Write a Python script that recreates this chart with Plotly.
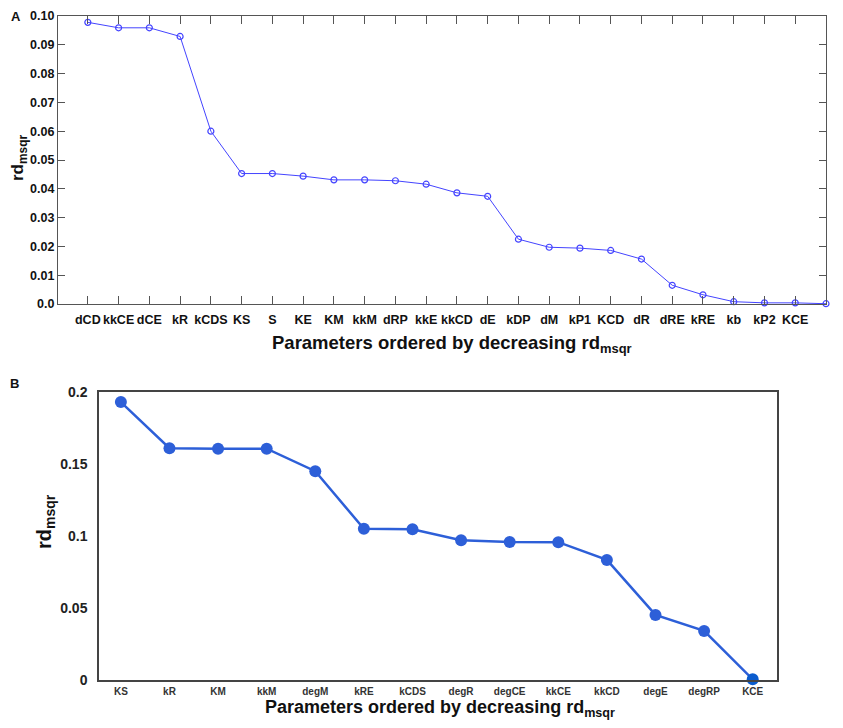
import plotly.graph_objects as go

# panel A: all parameters
params_a = ["dCD", "kkCE", "dCE", "kR", "kCDS", "KS", "S", "KE", "KM", "kkM",
            "dRP", "kkE", "kkCD", "dE", "kDP", "dM", "kP1", "KCD", "dR", "dRE",
            "kRE", "kb", "kP2", "KCE", "KRP"]
rd_a = [0.0978, 0.0959, 0.0959, 0.0929, 0.0600, 0.0453, 0.0453, 0.0444, 0.0431, 0.0431,
        0.0428, 0.0416, 0.0386, 0.0374, 0.0225, 0.0197, 0.0194, 0.0186, 0.0156, 0.0065,
        0.0032, 0.0008, 0.0004, 0.0004, 0.0001]
yticks_a = [0.0, 0.01, 0.02, 0.03, 0.04, 0.05, 0.06, 0.07, 0.08, 0.09, 0.10]
yticktext_a = ["0.0", "0.01", "0.02", "0.03", "0.04", "0.05", "0.06", "0.07", "0.08", "0.09", "0.10"]

# panel B: reduced set
params_b = ["KS", "kR", "KM", "kkM", "degM", "kRE", "kCDS", "degR", "degCE", "kkCE",
            "kkCD", "degE", "degRP", "KCE"]
rd_b = [0.193, 0.161, 0.1606, 0.1606, 0.145, 0.105, 0.1047, 0.0971, 0.0959, 0.0957,
        0.0834, 0.0452, 0.0341, 0.0005]
yticks_b = [0, 0.05, 0.1, 0.15, 0.2]
yticktext_b = ["0", "0.05", "0.1", "0.15", "0.2"]

# the page keeps an 8px body margin, so the figure sits at (8, 8)
W, H = 827, 712
OX, OY = 8, 8
FONT = "Liberation Sans, Arial, sans-serif"


def px(X):
    return min(max((X - OX) / W, 0), 1)


def py(Y):
    return min(max(1 - (Y - OY) / H, 0), 1)


def label(text, X, Y, size, angle=0):
    return dict(text=text, x=px(X), y=py(Y), xref="paper", yref="paper",
                xanchor="center", yanchor="middle", textangle=angle,
                showarrow=False, font=dict(size=size, color="#111"))


colors_b = ["#2d5fd8"] * (len(params_b) - 1) + ["#0b5cce"]

fig = go.Figure()

fig.add_trace(go.Scatter(
    x=list(range(len(params_a))), y=rd_a, mode="lines+markers",
    line=dict(color="#4444ff", width=1),
    marker=dict(symbol="circle-open", size=6, color="#4444ff", line=dict(width=1.2)),
    xaxis="x", yaxis="y", cliponaxis=False, showlegend=False,
))

fig.add_trace(go.Scatter(
    x=list(range(len(params_b))), y=rd_b, mode="lines+markers",
    line=dict(color="#2d5fd8", width=2.5),
    marker=dict(symbol="circle", size=12, color=colors_b),
    xaxis="x2", yaxis="y2", cliponaxis=False, showlegend=False,
))

fig.update_layout(
    width=W, height=H,
    margin=dict(l=0, r=0, t=0, b=0, autoexpand=False),
    paper_bgcolor="white", plot_bgcolor="white",
    font=dict(family=FONT, color="#111"),
    xaxis=dict(
        domain=[px(58), px(826)], range=[-0.97, 24],
        tickvals=list(range(len(params_a))), ticktext=params_a,
        tickfont=dict(size=12.5, weight="bold", color="#111"),
        ticks="inside", ticklen=8, tickcolor="#555", mirror="ticks",
        ticklabelstandoff=4, automargin=False,
        showline=True, linecolor="#555", linewidth=1.2,
        showgrid=False, zeroline=False, anchor="y",
    ),
    yaxis=dict(
        domain=[py(304), py(16)], range=[0, 0.10],
        tickvals=yticks_a, ticktext=yticktext_a,
        tickfont=dict(size=12.5, weight="bold", color="#111"),
        ticks="inside", ticklen=7, tickcolor="#555", mirror="ticks",
        automargin=False,
        showline=True, linecolor="#555", linewidth=1.2,
        showgrid=False, zeroline=False, anchor="x",
    ),
    xaxis2=dict(
        domain=[px(99), px(777)], range=[-0.45, 13.5],
        tickvals=list(range(len(params_b))), ticktext=params_b,
        tickfont=dict(size=10, weight="bold", color="#333"),
        ticks="", mirror=True, ticklabelstandoff=1, automargin=False,
        showline=True, linecolor="#444", linewidth=1.5,
        showgrid=False, zeroline=False, anchor="y2",
    ),
    yaxis2=dict(
        domain=[py(680), py(392)], range=[0, 0.2],
        tickvals=yticks_b, ticktext=yticktext_b,
        tickfont=dict(size=14, weight="bold", color="#222"),
        ticks="", mirror=True, ticklabelstandoff=7, automargin=False,
        showline=True, linecolor="#444", linewidth=1.5,
        showgrid=False, zeroline=False, anchor="x2",
    ),
    annotations=[
        label("<b>A</b>", 16, 17, 13),
        label("<b>B</b>", 14, 383, 13),
        label("<b>Parameters ordered by decreasing rd<sub>msqr</sub></b>", 452, 344, 18.5),
        label("<b>rd<sub>msqr</sub></b>", 19, 158, 17, angle=-90),
        label("<b>Parameters ordered by decreasing rd<sub>msqr</sub></b>", 440, 708, 18),
        label("<b>rd<sub>msqr</sub></b>", 45, 522, 20, angle=-90),
    ],
)

fig.write_html("out.html")
